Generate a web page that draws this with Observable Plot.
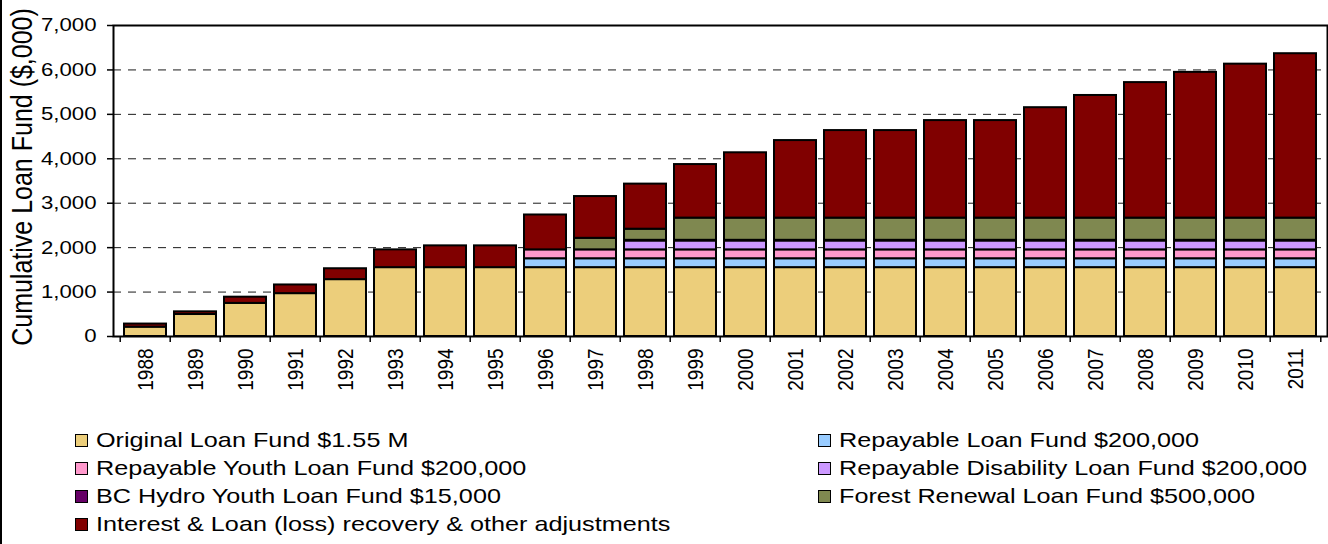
<!DOCTYPE html>
<html>
<head>
<meta charset="utf-8">
<script src="https://cdn.jsdelivr.net/npm/d3@7"></script>
<script src="https://cdn.jsdelivr.net/npm/@observablehq/plot@0.6"></script>
<style>
  html, body { margin: 0; padding: 0; background: #fff; }
  body { font-family: "Liberation Sans", Arial, sans-serif; width: 1328px; height: 544px; overflow: hidden; position: relative; }
  #edge { position: absolute; left: 0; top: 0; width: 2px; height: 544px; background: #000; }
  #chart svg { display: block; }
  #legend { display: grid; grid-template-columns: 743px auto; padding-left: 75px; margin-top: 16px; }
  .item { display: flex; align-items: center; height: 28px; font-size: 21px; color: #000; white-space: nowrap; }
  .sw { width: 13px; height: 13px; box-sizing: border-box; border: 1.5px solid #000; margin-right: 8px; flex: none; }
  .lbl { display: inline-block; transform: scaleX(1.2); transform-origin: left center; }
</style>
</head>
<body>
<div id="edge"></div>
<div id="chart"></div>
<div id="legend"></div>
<script>
const years = ["1988","1989","1990","1991","1992","1993","1994","1995","1996","1997","1998","1999","2000","2001","2002","2003","2004","2005","2006","2007","2008","2009","2010","2011"];
const original   = [210,495,745,965,1280,1550,1550,1550,1550,1550,1550,1550,1550,1550,1550,1550,1550,1550,1550,1550,1550,1550,1550,1550];
const repayable  = [0,0,0,0,0,0,0,0,200,200,200,200,200,200,200,200,200,200,200,200,200,200,200,200];
const youth      = [0,0,0,0,0,0,0,0,200,200,200,200,200,200,200,200,200,200,200,200,200,200,200,200];
const disability = [0,0,0,0,0,0,0,0,0,0,200,200,200,200,200,200,200,200,200,200,200,200,200,200];
const bcHydro    = [0,0,0,0,0,0,0,0,0,0,15,15,15,15,15,15,15,15,15,15,15,15,15,15];
const forest     = [0,0,0,0,0,0,0,0,0,260,250,500,500,500,500,500,500,500,500,500,500,500,500,500];
const interest   = [70,60,140,195,245,400,490,490,785,940,1015,1205,1470,1745,1970,1970,2195,2195,2485,2760,3050,3280,3465,3700];

const seriesNames = [
  "Original Loan Fund $1.55 M",
  "Repayable Loan Fund $200,000",
  "Repayable Youth Loan Fund $200,000",
  "Repayable Disability Loan Fund $200,000",
  "BC Hydro Youth Loan Fund $15,000",
  "Forest Renewal Loan Fund $500,000",
  "Interest & Loan (loss) recovery & other adjustments"
];
const seriesColors = ["#ECCE7B","#99CCFF","#FF99CC","#CC99FF","#660066","#7F8850","#800000"];
const yTicks = [0,1000,2000,3000,4000,5000,6000,7000];
const gridTicks = [1000,2000,3000,4000,5000,6000];
const yTitle = "Cumulative Loan Fund ($,000)";

const seriesValues = [original, repayable, youth, disability, bcHydro, forest, interest];
const rows = [];
years.forEach((yr, i) => {
  seriesNames.forEach((s, j) => rows.push({year: yr, series: s, value: seriesValues[j][i]}));
});

const W = 1328, ML = 113, MR = 1;
const step = (W - ML - MR) / years.length;

const chart = Plot.plot({
  width: W,
  height: 410,
  marginLeft: ML,
  marginRight: MR,
  marginTop: 25,
  marginBottom: 74,
  style: {fontFamily: "'Liberation Sans', Arial, sans-serif", color: "#000", background: "#fff"},
  x: {domain: years, paddingInner: 0.17, paddingOuter: 0.085, axis: null},
  y: {domain: [0, 7000], axis: null},
  color: {domain: seriesNames, range: seriesColors},
  marks: [
    Plot.gridY(gridTicks, {stroke: "#000", strokeOpacity: 0.9, strokeWidth: 1, strokeDasharray: "8,7"}),
    Plot.barY(rows, {x: "year", y: "value", fill: "series", stroke: "#000", strokeWidth: 2}),
    Plot.axisY({ticks: yTicks, tickFormat: d3.format(","), tickSize: 6, tickPadding: 11, fontSize: 18.5, label: null, strokeWidth: 1.5}),
    Plot.axisX({tickSize: 6, tickFormat: () => "", dx: -step / 2, label: null, strokeWidth: 1.5}),
    Plot.axisX({ticks: [years[years.length - 1]], tickSize: 6, tickFormat: () => "", dx: step / 2, label: null, strokeWidth: 1.5}),
    Plot.axisX({tickSize: 0, tickRotate: -90, tickPadding: 12, fontSize: 19, label: null}),
    Plot.text([yTitle], {frameAnchor: "left", textAnchor: "middle", lineAnchor: "middle", rotate: -90, dx: -91, dy: -4, fontSize: 25, fill: "#000"}),
    Plot.frame({stroke: "#000", strokeWidth: 2})
  ]
});

// horizontal stretch of text glyphs, as in the reference
chart.querySelectorAll("text").forEach(t => {
  const tr = t.getAttribute("transform");
  if (tr) {
    const m = tr.match(/^\s*translate\(([^)]*)\)(.*)$/);
    if (m) t.setAttribute("transform", `translate(${m[1]}) scale(1.2,1)${m[2]}`);
    else t.setAttribute("transform", `${tr} scale(1.2,1)`);
  } else {
    const x = +t.getAttribute("x") || 0, y = +t.getAttribute("y") || 0;
    t.setAttribute("x", 0); t.setAttribute("y", 0);
    t.setAttribute("transform", `translate(${x},${y}) scale(1.2,1)`);
  }
});

document.getElementById("chart").appendChild(chart);

const legendOrder = [0, 1, 2, 3, 4, 5, 6];
const legend = document.getElementById("legend");
legendOrder.forEach(j => {
  const item = document.createElement("div");
  item.className = "item";
  const sw = document.createElement("span");
  sw.className = "sw";
  sw.style.background = seriesColors[j];
  const lb = document.createElement("span");
  lb.className = "lbl";
  lb.textContent = seriesNames[j];
  item.appendChild(sw);
  item.appendChild(lb);
  legend.appendChild(item);
});
</script>
</body>
</html>
